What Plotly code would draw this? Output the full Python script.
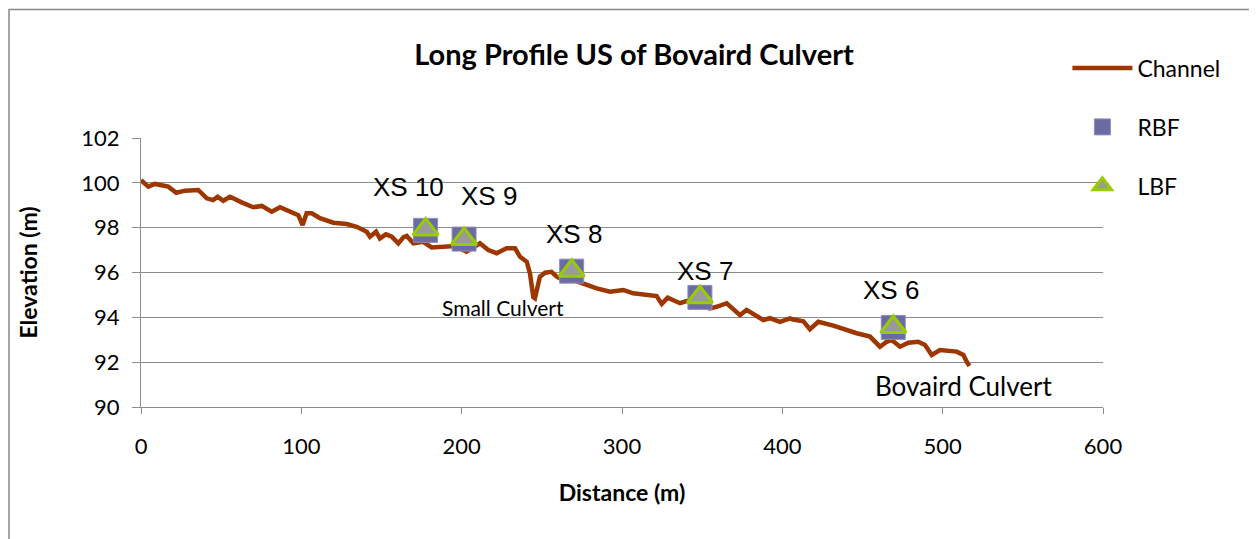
import plotly.graph_objects as go

# Channel long profile (distance m, elevation m)
dist = [0, 4.6, 8.7, 17, 22, 27.4, 35.7, 41, 45, 47.8, 51.3, 55.5, 62.8, 70, 75.3,
        81.5, 86.7, 94, 98.1, 100.8, 103.3, 106.5, 111.6, 120, 128.3, 134.5, 140.8,
        142.8, 146.6, 149, 152.8, 156.4, 160.5, 163.6, 165.7, 169.9, 176, 181.3,
        188.6, 195.8, 203, 208.3, 211.4, 216.6, 221.8, 228, 233.3, 236.4, 240.6,
        242.6, 244.7, 245.7, 248.8, 252, 256, 259.3, 264.5, 269.7, 278, 284.2,
        292.5, 300.8, 307, 315.4, 321.6, 324.8, 328.5, 336.2, 342.4, 345.5, 354.9,
        359, 365.3, 373.6, 377.7, 388.1, 392.3, 398.5, 404.8, 406.8, 413.1, 417.2,
        422.4, 431.8, 442.2, 446.4, 454.7, 460.9, 465.1, 468.2, 473.4, 478.6,
        484.8, 489, 493.2, 498.3, 508.8, 512.9, 515, 516.7]
elev = [100.12, 99.83, 99.95, 99.83, 99.56, 99.65, 99.68, 99.31, 99.23, 99.38, 99.2,
        99.38, 99.13, 98.91, 98.97, 98.71, 98.91, 98.71, 98.56, 98.12, 98.64, 98.64,
        98.42, 98.22, 98.16, 98.04, 97.82, 97.6, 97.82, 97.52, 97.7, 97.6, 97.3,
        97.57, 97.63, 97.3, 97.37, 97.12, 97.15, 97.18, 96.93, 97.15, 97.3, 97.0,
        96.86, 97.08, 97.08, 96.7, 96.48, 95.96, 94.9, 94.85, 95.81, 95.99, 96.03,
        95.81, 95.62, 95.66, 95.44, 95.29, 95.14, 95.22, 95.07, 95.0, 94.95, 94.6,
        94.88, 94.63, 94.77, 94.55, 94.4, 94.47, 94.63, 94.1, 94.33, 93.88, 93.96,
        93.8, 93.95, 93.9, 93.82, 93.47, 93.8, 93.63, 93.36, 93.29, 93.14, 92.69,
        92.91, 92.99, 92.69, 92.87, 92.91, 92.77, 92.32, 92.54, 92.47, 92.32,
        92.02, 91.83]

# Cross sections
xs_names = ["XS 10", "XS 9", "XS 8", "XS 7", "XS 6"]
xs_dist = [177.5, 201.5, 268.6, 348.6, 469.2]
rbf_elev = [97.88, 97.49, 96.06, 94.89, 93.55]
lbf_elev = [97.92, 97.5, 96.08, 94.9, 93.57]
# label positions for the XS names
xs_label_dist = [167, 217, 270, 352, 468]
xs_label_elev = [99.8, 99.4, 97.72, 96.07, 95.22]

CAL = "Lato, Carlito, Calibri, sans-serif"
ARIAL = "Liberation Sans, Arial, sans-serif"
GRID = "#8c8c8c"

fig = go.Figure()

fig.add_trace(go.Scatter(
    x=dist, y=elev, mode="lines", name="Channel", legendgroup="a",
    line=dict(color="#9e3600", width=4.5),
))
fig.add_trace(go.Scatter(
    x=xs_dist, y=rbf_elev, mode="markers", name="RBF", legendgroup="b",
    marker=dict(symbol="square", size=24, color="#6b6ba3",
                line=dict(color="#8e8ebd", width=1)),
))
fig.add_trace(go.Scatter(
    x=xs_dist, y=lbf_elev, mode="markers", name="LBF", legendgroup="c",
    marker=dict(symbol="triangle-up", size=22, color="#9a9a9a",
                line=dict(color="#99cc00", width=3)),
))

for name, lx, ly in zip(xs_names, xs_label_dist, xs_label_elev):
    fig.add_annotation(x=lx, y=ly, text=name, showarrow=False,
                       font=dict(family=ARIAL, size=26, color="#000"))

fig.add_annotation(x=226, y=94.46, text="Small Culvert", showarrow=False,
                   font=dict(family=CAL, size=21, color="#000"))
fig.add_annotation(x=513, y=90.94, text="Bovaird Culvert", showarrow=False,
                   font=dict(family=CAL, size=26, color="#000"))

# outer chart border (Excel chart area)
fig.add_shape(type="path", xref="paper", yref="paper",
              path="M -0.1372,-0.6 L -0.1372,1.478 L 1.1570,1.478 L 1.1570,-0.6",
              line=dict(color="#888888", width=1.5))

fig.update_layout(
    width=1249, height=531,
    margin=dict(l=133, r=154, t=130, b=132),
    paper_bgcolor="white", plot_bgcolor="white",
    title=dict(text="<b>Long Profile US of Bovaird Culvert</b>", x=0.5125, xref="paper",
               xanchor="center", y=0.9115, yref="container", yanchor="middle",
               font=dict(family=CAL, size=29, color="#000")),
    font=dict(family=CAL, size=22, color="#000"),
    xaxis=dict(
        range=[0, 600], dtick=100, tick0=0, showgrid=False,
        showline=True, linecolor=GRID, linewidth=1,
        ticks="outside", ticklen=6, tickcolor=GRID, ticklabelstandoff=14,
        title=dict(text="<b>Distance (m)</b>", font=dict(size=23), standoff=26),
        zeroline=False,
    ),
    yaxis=dict(
        range=[90, 102], dtick=2, tick0=90, showgrid=True, gridcolor=GRID, gridwidth=1,
        showline=True, linecolor=GRID, linewidth=1,
        ticks="outside", ticklen=8, tickcolor=GRID, ticklabelstandoff=8,
        title=dict(text="<b>Elevation (m)</b>", font=dict(size=23), standoff=37),
        zeroline=False,
    ),
    legend=dict(x=0.963, y=1.34, xanchor="left", yanchor="top",
                tracegroupgap=26, itemwidth=60,
                font=dict(family=CAL, size=23, color="#000"),
                bgcolor="rgba(0,0,0,0)"),
    showlegend=True,
)

fig.write_html("out.html")
